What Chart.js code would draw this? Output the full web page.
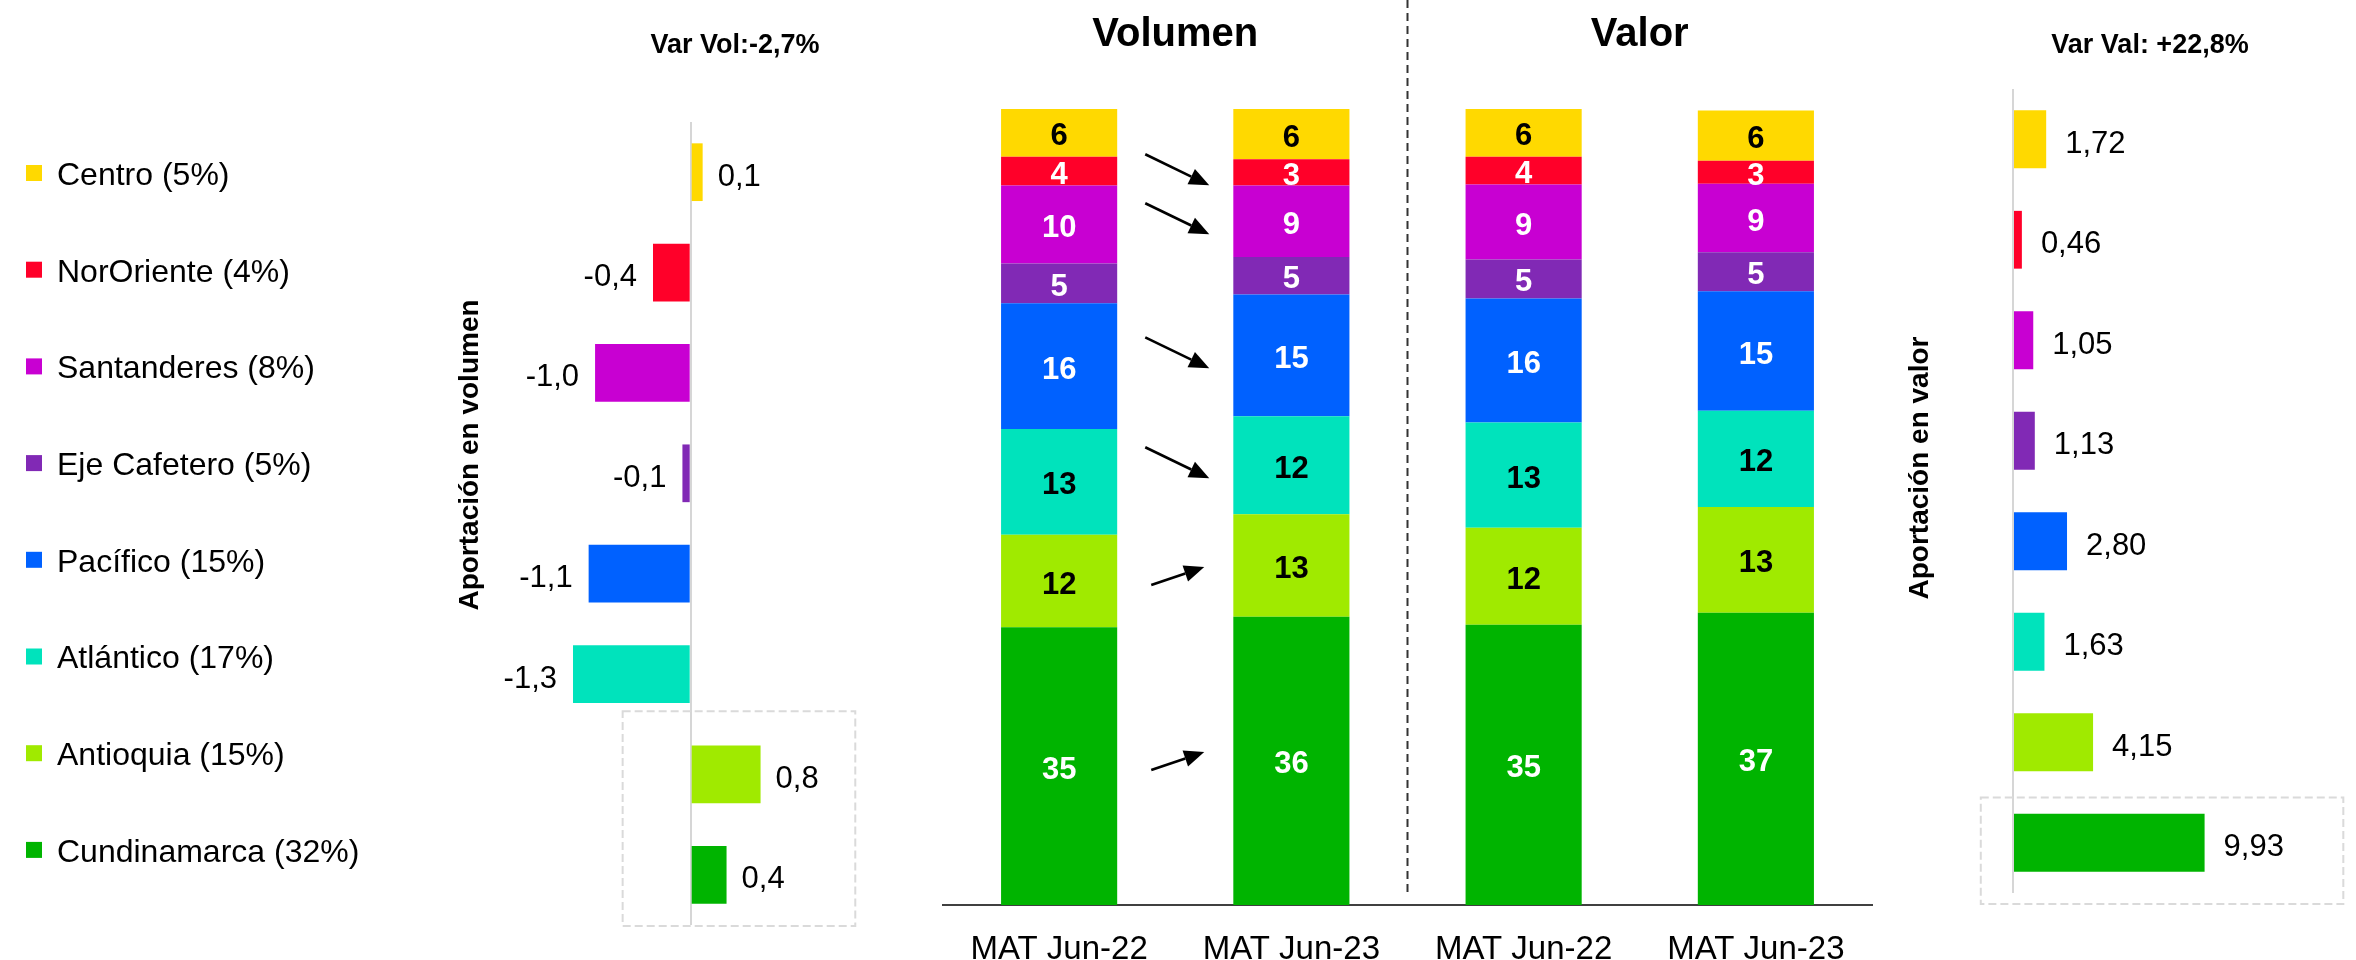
<!DOCTYPE html>
<html>
<head>
<meta charset="utf-8">
<script src="https://cdn.jsdelivr.net/npm/chart.js@4.4.1/dist/chart.umd.min.js"></script>
<style>
html, body { margin:0; padding:0; background:#ffffff; width:2356px; height:960px; overflow:hidden; }
canvas { position:absolute; top:0; }
#cVol { left:0px; }
#cMix { left:900px; }
#cVal { left:1890px; }
</style>
</head>
<body>
<canvas id="cVol" width="880" height="960"></canvas>
<canvas id="cMix" width="990" height="960"></canvas>
<canvas id="cVal" width="466" height="960"></canvas>
<script>
// ---------------- DATA ----------------
const regions = ['Centro', 'NorOriente', 'Santanderes', 'Eje Cafetero', 'Pacífico', 'Atlántico', 'Antioquia', 'Cundinamarca'];
const regionShares = [5, 4, 8, 5, 15, 17, 15, 32];

const volContribution = [0.13, -0.41, -1.04, -0.09, -1.11, -1.28, 0.76, 0.39];
const valContribution = [1.72, 0.46, 1.05, 1.13, 2.80, 1.63, 4.15, 9.93];

const periods = ['MAT Jun-22', 'MAT Jun-23', 'MAT Jun-22', 'MAT Jun-23'];
const groupTitles = ['Volumen', 'Valor'];
const volShareJun22 = [6.0, 3.6, 9.8, 5.0, 15.8, 13.3, 11.6, 34.9];
const volShareJun23 = [6.3, 3.3, 9.0, 4.7, 15.3, 12.3, 12.9, 36.2];
const valShareJun22 = [6.0, 3.5, 9.4, 4.9, 15.6, 13.2, 12.2, 35.2];
const valShareJun23 = [6.3, 2.9, 8.6, 4.9, 15.0, 12.1, 13.3, 36.7];

const volTitle = 'Var Vol:-2,7%';
const valTitle = 'Var Val: +22,8%';
const volAxisTitle = 'Aportación en volumen';
const valAxisTitle = 'Aportación en valor';

// ---------------- STYLES ----------------
const colors = ['#FFD900', '#FF0029', '#C800D2', '#8129B5', '#0061FF', '#00E3BC', '#A0EA00', '#00B400'];
const shareLabelColors = ['#000000', '#ffffff', '#ffffff', '#ffffff', '#ffffff', '#000000', '#000000', '#ffffff'];
const FF = '"Liberation Sans", Arial, Helvetica, sans-serif';
Chart.defaults.font.family = FF;
Chart.defaults.color = '#000000';

function fmt(v, d) { return v.toFixed(d).replace('.', ','); }

function drawDashedBox(ctx, x0, y0, x1, y1) {
  ctx.save();
  ctx.strokeStyle = '#dadada';
  ctx.lineWidth = 2;
  ctx.setLineDash([8, 4]);
  ctx.strokeRect(x0, y0, x1 - x0, y1 - y0);
  ctx.restore();
}

function drawRotatedTitle(ctx, text, x, y) {
  ctx.save();
  ctx.translate(x, y);
  ctx.rotate(-Math.PI / 2);
  ctx.font = 'bold 28px ' + FF;
  ctx.fillStyle = '#000';
  ctx.textAlign = 'center';
  ctx.textBaseline = 'alphabetic';
  ctx.fillText(text, 0, 0);
  ctx.restore();
}

function drawBarValues(chart, decimals, gapPos, gapNeg, dy) {
  const ctx = chart.ctx;
  const meta = chart.getDatasetMeta(0);
  const data = chart.data.datasets[0].data;
  ctx.save();
  ctx.font = '31px ' + FF;
  ctx.fillStyle = '#000';
  ctx.textBaseline = 'middle';
  meta.data.forEach((el, i) => {
    const v = data[i];
    if (v >= 0) {
      ctx.textAlign = 'left';
      ctx.fillText(fmt(v, decimals), el.x + gapPos, el.y + dy);
    } else {
      ctx.textAlign = 'right';
      ctx.fillText(fmt(v, decimals), el.x - gapNeg, el.y + dy);
    }
  });
  ctx.restore();
}

// ---------------- LEFT: volume contribution ----------------
const volDecor = {
  id: 'volDecor',
  afterDraw(chart) {
    const ctx = chart.ctx;
    const xs = chart.scales.x, ys = chart.scales.y;
    // highlight box around the last two regions
    drawDashedBox(ctx, xs.getPixelForValue(-0.74), ys.getPixelForValue(5.37), xs.getPixelForValue(1.79), ys.getPixelForValue(7.51));
    drawBarValues(chart, 1, 15, 16, 5);
    // title
    ctx.save();
    ctx.font = 'bold 27px ' + FF;
    ctx.fillStyle = '#000';
    ctx.textAlign = 'center';
    ctx.textBaseline = 'alphabetic';
    ctx.fillText(volTitle, 735, 53);
    ctx.restore();
    drawRotatedTitle(ctx, volAxisTitle, 478, 455);
    // legend
    ctx.save();
    ctx.font = '32px ' + FF;
    ctx.textAlign = 'left';
    ctx.textBaseline = 'middle';
    regions.forEach((r, i) => {
      const y = 173 + i * 96.7;
      ctx.fillStyle = colors[i];
      ctx.fillRect(26, y - 8, 16, 16);
      ctx.fillStyle = '#000';
      ctx.fillText(r + ' (' + regionShares[i] + '%)', 57, y + 3);
    });
    ctx.restore();
  }
};

new Chart(document.getElementById('cVol'), {
  type: 'bar',
  data: {
    labels: regions,
    datasets: [{
      data: volContribution,
      backgroundColor: colors,
      borderWidth: 0,
      categoryPercentage: 1,
      barPercentage: 0.575
    }]
  },
  options: {
    indexAxis: 'y',
    responsive: false,
    animation: false,
    devicePixelRatio: 1,
    layout: { padding: { left: 516, right: 33, top: 122, bottom: 35 } },
    plugins: { legend: { display: false }, tooltip: { enabled: false } },
    scales: {
      x: {
        min: -1.9, max: 1.7,
        ticks: { display: false },
        border: { display: false },
        grid: { drawTicks: false, color: '#d6d6d6', lineWidth: 2 },
        afterBuildTicks: s => { s.ticks = [{ value: 0 }]; },
        afterFit: s => { s.height = 0; }
      },
      y: { display: false }
    }
  },
  plugins: [volDecor]
});

// ---------------- MIDDLE: stacked shares ----------------
const mixDatasets = regions.map((r, i) => ({
  label: r,
  regionIndex: i,
  data: [volShareJun22[i], volShareJun23[i], valShareJun22[i], valShareJun23[i]],
  backgroundColor: colors[i],
  borderWidth: 0,
  categoryPercentage: 1,
  barPercentage: 0.5
})).reverse();

function drawArrow(ctx, x0, y0, x1, y1) {
  const ang = Math.atan2(y1 - y0, x1 - x0);
  const hl = 20, hw = 8.5;
  const bx = x1 - hl * Math.cos(ang), by = y1 - hl * Math.sin(ang);
  ctx.beginPath();
  ctx.moveTo(x0, y0);
  ctx.lineTo(bx, by);
  ctx.stroke();
  ctx.beginPath();
  ctx.moveTo(x1, y1);
  ctx.lineTo(bx + hw * Math.sin(ang), by - hw * Math.cos(ang));
  ctx.lineTo(bx - hw * Math.sin(ang), by + hw * Math.cos(ang));
  ctx.closePath();
  ctx.fill();
}

const mixDecor = {
  id: 'mixDecor',
  afterDraw(chart) {
    const ctx = chart.ctx;
    const xs = chart.scales.x;
    const area = chart.chartArea;
    // divider between Volumen and Valor
    const xd = (xs.getPixelForValue(1) + xs.getPixelForValue(2)) / 2;
    ctx.save();
    ctx.strokeStyle = '#333333';
    ctx.lineWidth = 2;
    ctx.setLineDash([8, 5]);
    ctx.beginPath();
    ctx.moveTo(xd, 0);
    ctx.lineTo(xd, area.bottom - 8);
    ctx.stroke();
    ctx.restore();
    // group titles
    ctx.save();
    ctx.font = 'bold 40px ' + FF;
    ctx.fillStyle = '#000';
    ctx.textAlign = 'center';
    ctx.textBaseline = 'alphabetic';
    groupTitles.forEach((t, g) => {
      const cx = (xs.getPixelForValue(2 * g) + xs.getPixelForValue(2 * g + 1)) / 2;
      ctx.fillText(t, cx, 46);
    });
    ctx.restore();
    // segment labels
    ctx.save();
    ctx.font = 'bold 31px ' + FF;
    ctx.textAlign = 'center';
    ctx.textBaseline = 'middle';
    chart.data.datasets.forEach((ds, di) => {
      const meta = chart.getDatasetMeta(di);
      meta.data.forEach((el, j) => {
        ctx.fillStyle = shareLabelColors[ds.regionIndex];
        ctx.fillText(String(Math.round(ds.data[j])), el.x, (el.y + el.base) / 2 + 4);
      });
    });
    ctx.restore();
    // trend arrows between the two volume bars
    ctx.save();
    ctx.strokeStyle = '#000';
    ctx.fillStyle = '#000';
    ctx.lineWidth = 2.6;
    chart.data.datasets.forEach((ds, di) => {
      const d = Math.round(ds.data[1]) - Math.round(ds.data[0]);
      if (d === 0) return;
      const meta = chart.getDatasetMeta(di);
      const e0 = meta.data[0], e1 = meta.data[1];
      const xm = (e0.x + e0.width / 2 + e1.x - e1.width / 2) / 2 + 2;
      if (d < 0) {
        const yc = (e1.y + e1.base) / 2 - 3;
        drawArrow(ctx, xm - 32, yc - 15, xm + 32, yc + 16);
      } else {
        const yc = (e0.y + e0.base) / 2 - 5;
        drawArrow(ctx, xm - 26, yc + 9, xm + 27, yc - 9);
      }
    });
    ctx.restore();
  }
};

new Chart(document.getElementById('cMix'), {
  type: 'bar',
  data: { labels: periods, datasets: mixDatasets },
  options: {
    responsive: false,
    animation: false,
    devicePixelRatio: 1,
    layout: { padding: { left: 43, right: 18, top: 109, bottom: 0 } },
    plugins: { legend: { display: false }, tooltip: { enabled: false } },
    scales: {
      x: {
        stacked: true,
        grid: { display: false, drawTicks: false },
        border: { display: true, color: '#404040', width: 2 },
        ticks: { color: '#000', font: { size: 33 }, padding: 25, maxRotation: 0, autoSkip: false },
        afterFit: s => { s.height = 55; }
      },
      y: { stacked: true, min: 0, max: 100, display: false }
    }
  },
  plugins: [mixDecor]
});

// ---------------- RIGHT: value contribution ----------------
const valDecor = {
  id: 'valDecor',
  afterDraw(chart) {
    const ctx = chart.ctx;
    const xs = chart.scales.x, ys = chart.scales.y;
    drawDashedBox(ctx, xs.getPixelForValue(-1.67), ys.getPixelForValue(6.55), xs.getPixelForValue(17.12), ys.getPixelForValue(7.61));
    drawBarValues(chart, 2, 19, 19, 5);
    ctx.save();
    ctx.font = 'bold 27px ' + FF;
    ctx.fillStyle = '#000';
    ctx.textAlign = 'center';
    ctx.textBaseline = 'alphabetic';
    ctx.fillText(valTitle, 260, 53);
    ctx.restore();
    drawRotatedTitle(ctx, valAxisTitle, 38, 468);
  }
};

new Chart(document.getElementById('cVal'), {
  type: 'bar',
  data: {
    labels: regions,
    datasets: [{
      data: valContribution,
      backgroundColor: colors,
      borderWidth: 0,
      categoryPercentage: 1,
      barPercentage: 0.575
    }]
  },
  options: {
    indexAxis: 'y',
    responsive: false,
    animation: false,
    devicePixelRatio: 1,
    layout: { padding: { left: 123, right: 15, top: 89, bottom: 67 } },
    plugins: { legend: { display: false }, tooltip: { enabled: false } },
    scales: {
      x: {
        min: 0, max: 17,
        ticks: { display: false },
        border: { display: false },
        grid: { drawTicks: false, color: '#d6d6d6', lineWidth: 2 },
        afterBuildTicks: s => { s.ticks = [{ value: 0 }]; },
        afterFit: s => { s.height = 0; }
      },
      y: { display: false }
    }
  },
  plugins: [valDecor]
});
</script>
</body>
</html>
